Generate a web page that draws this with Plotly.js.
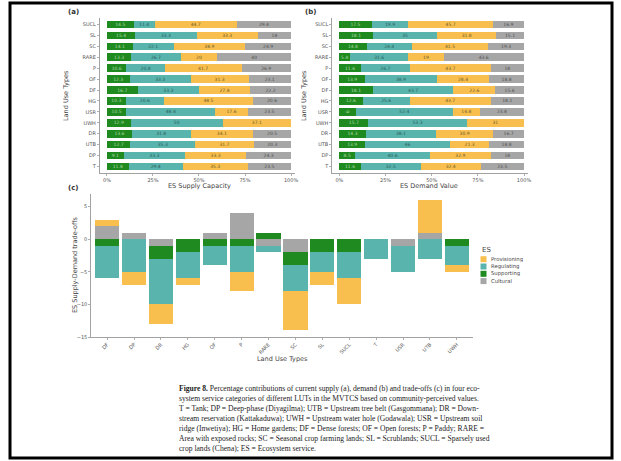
<!DOCTYPE html>
<html>
<head>
<meta charset="utf-8">
<script src="https://cdn.plot.ly/plotly-3.0.1.min.js"></script>
<style>html,body{margin:0;padding:0;background:#fff;}#chart{width:621px;height:461px;}</style>
</head>
<body>
<div id="chart"></div>
<script>
// ---- Data ----
// Panels (a) and (b): land use types listed bottom to top
const landTypesAB = ['T','DP','UTB','DR','UWH','USR','HG','DF','OF','P','RARE','SC','SL','SUCL'];
const supplySupporting   = [11.8, 9.1, 12.7, 13.6, 12.9, 10.5, 10.3, 16.7, 12.3, 10.6, 13.3, 14.1, 15.4, 14.5];
const supplyRegulating   = [29.4, 33.3, 35.3, 31.8, 50.0, 48.4, 20.6, 33.3, 33.3, 20.8, 26.7, 22.1, 33.3, 11.4];
const supplyProvisioning = [35.3, 33.3, 31.7, 34.1, 37.1, 17.6, 48.5, 27.8, 31.3, 41.7, 20.0, 38.9, 33.3, 44.7];
const supplyCultural     = [23.5, 24.3, 20.3, 20.5, 0, 23.5, 20.6, 22.2, 23.1, 26.9, 40.0, 24.9, 18.0, 29.4];

const demandSupporting   = [11.6, 8.5, 13.9, 14.3, 15.7, 9.0, 12.6, 18.1, 13.9, 11.6, 5.8, 14.8, 18.1, 17.5];
const demandRegulating   = [32.5, 40.6, 46.0, 38.1, 53.3, 52.4, 25.6, 43.7, 38.9, 26.7, 31.6, 24.4, 35.0, 19.9];
const demandProvisioning = [32.4, 32.9, 21.3, 30.9, 31.0, 14.8, 43.7, 22.6, 28.4, 43.7, 19.0, 41.5, 31.8, 45.7];
const demandCultural     = [23.5, 18.0, 18.8, 16.7, 0, 23.8, 18.1, 15.6, 18.8, 18.0, 43.6, 19.3, 15.1, 16.9];

// Panel (c): trade-offs
const landTypesC = ['DF','DP','DR','HG','OF','P','RARE','SC','SL','SUCL','T','USR','UTB','UWH'];
const tradeProvisioning = [1, -2, -3, -1, 0, -3, 0, -6, -2, -4, 0, 0, 5, -1];
const tradeRegulating   = [-5, -5, -7, -4, -3, -4, -1, -4, -3, -4, -3, -4, -3, -3];
const tradeSupporting   = [-1, 0, -2, -2, -1, -1, 1, -2, -2, -2, 0, 0, 0, -1];
const tradeCultural     = [2, 1, -1, 0, 1, 4, -1, -2, 0, 0, 0, -1, 1, 0];

const esNames = ['Provisioning','Regulating','Supporting','Cultural'];
const percentTicks = [0, 25, 50, 75, 100];
const percentTickText = ['0%','25%','50%','75%','100%'];
const tradeTicks = [-15, -10, -5, 0, 5];

const captionLines = [
  '<b>Figure 8.</b> Percentage contributions of current supply (a), demand (b) and trade-offs (c) in four eco-',
  'system service categories of different LUTs in the MVTCS based on community-perceived values.',
  'T = Tank; DP = Deep-phase (Diyagilma); UTB = Upstream tree belt (Gasgommana); DR = Down-',
  'stream reservation (Kattakaduwa); UWH = Upstream water hole (Godawala); USR = Upstream soil',
  'ridge (Inwetiya); HG = Home gardens; DF = Dense forests; OF = Open forests; P = Paddy; RARE =',
  'Area with exposed rocks; SC = Seasonal crop farming lands; SL = Scrublands; SUCL = Sparsely used',
  'crop lands (Chena); ES = Ecosystem service.'
];

// ---- Styles ----
const COLORS = {Provisioning:'#F9BF4E', Regulating:'#58B4AD', Supporting:'#1F8A1F', Cultural:'#A6A6A6'};
const TEXTCOL = {Provisioning:'#6b5a2a', Regulating:'#2c5c58', Supporting:'#a8d8a8', Cultural:'#505050'};
const W = 621, H = 461;
const px = x => x / W;
const py = y => 1 - y / H;

function pctTrace(name, vals, xa, ya) {
  return {
    type: 'bar', orientation: 'h', name: name,
    x: vals, y: landTypesAB, xaxis: xa, yaxis: ya,
    width: 0.7,
    marker: {color: COLORS[name], line: {width: 0}},
    text: vals.map(v => v > 0 ? String(v) : ''),
    textposition: 'inside', insidetextanchor: 'middle', constraintext: 'none',
    textfont: {size: 4.5, color: TEXTCOL[name], family: 'DejaVu Sans'},
    showlegend: false, hoverinfo: 'skip'
  };
}
function tradeTrace(name, vals) {
  return {
    type: 'bar', name: name, x: landTypesC, y: vals,
    xaxis: 'x3', yaxis: 'y3', width: 0.9,
    marker: {color: COLORS[name], line: {width: 0}},
    showlegend: false, hoverinfo: 'skip'
  };
}

const data = [
  pctTrace('Supporting', supplySupporting, 'x', 'y'),
  pctTrace('Regulating', supplyRegulating, 'x', 'y'),
  pctTrace('Provisioning', supplyProvisioning, 'x', 'y'),
  pctTrace('Cultural', supplyCultural, 'x', 'y'),
  pctTrace('Supporting', demandSupporting, 'x2', 'y2'),
  pctTrace('Regulating', demandRegulating, 'x2', 'y2'),
  pctTrace('Provisioning', demandProvisioning, 'x2', 'y2'),
  pctTrace('Cultural', demandCultural, 'x2', 'y2'),
  tradeTrace('Cultural', tradeCultural),
  tradeTrace('Supporting', tradeSupporting),
  tradeTrace('Regulating', tradeRegulating),
  tradeTrace('Provisioning', tradeProvisioning)
];

const axisCommon = {
  showline: true, linecolor: '#7a7a7a', linewidth: 0.7,
  ticks: 'outside', ticklen: 2, tickcolor: '#7a7a7a', tickwidth: 0.6,
  showgrid: false, zeroline: false, fixedrange: true,
  tickfont: {size: 5, color: '#555', family: 'DejaVu Sans'}
};
const abY = [py(173), py(18)];

const annotations = [];
function addText(text, x, y, opts) {
  annotations.push(Object.assign({
    text: text, x: px(x), y: py(y), xref: 'paper', yref: 'paper',
    showarrow: false, xanchor: 'center', yanchor: 'middle',
    font: {size: 6.5, color: '#444', family: 'DejaVu Sans'}
  }, opts || {}));
}
addText('<b>(a)</b>', 66, 12, {xanchor: 'left', font: {size: 7, color: '#333', family: 'DejaVu Sans'}});
addText('<b>(b)</b>', 303, 12, {xanchor: 'left', font: {size: 7, color: '#333', family: 'DejaVu Sans'}});
addText('<b>(c)</b>', 66, 188, {xanchor: 'left', font: {size: 7, color: '#333', family: 'DejaVu Sans'}});
addText('Land Use Types', 66, 96, {textangle: -90});
addText('Land Use Types', 304, 96, {textangle: -90});
addText('ES Supply Capacity', 199, 186);
addText('ES Demand Value', 429, 186);
addText('ES Supply-Demand trade-offs', 75, 265, {textangle: -90});
addText('Land Use Types', 282, 359);
// legend for panel (c)
addText('ES', 480, 250, {xanchor: 'left', font: {size: 7, color: '#444', family: 'DejaVu Sans'}});
const shapes = [];
esNames.forEach((nm, i) => {
  const yc = 259.2 + i * 7.3;
  shapes.push({type: 'rect', xref: 'paper', yref: 'paper',
    x0: px(480.5), x1: px(486.5), y0: py(yc + 3), y1: py(yc - 3),
    fillcolor: COLORS[nm], line: {width: 0}});
  addText(nm, 489.5, yc, {xanchor: 'left', font: {size: 5.3, color: '#444', family: 'DejaVu Sans'}});
});
// caption
captionLines.forEach((ln, i) => {
  addText(ln, 177, 388 + i * 10, {xanchor: 'left', align: 'left',
    font: {size: 7.6, color: '#222', family: 'Liberation Serif'}});
});
// frame
shapes.push({type: 'rect', xref: 'paper', yref: 'paper',
  x0: px(10), x1: px(612), y0: py(458), y1: py(3),
  line: {color: '#000', width: 3}, fillcolor: 'rgba(0,0,0,0)'});

const layout = {
  width: W, height: H,
  margin: {l: 0, r: 0, t: 0, b: 0, pad: 0},
  paper_bgcolor: '#fff', plot_bgcolor: '#fff',
  barmode: 'relative', bargap: 0,
  showlegend: false,
  font: {family: 'DejaVu Sans', color: '#444'},
  xaxis: Object.assign({}, axisCommon, {domain: [px(99.6), px(294.7)], range: [-4, 102], tickvals: percentTicks, ticktext: percentTickText, anchor: 'y'}),
  yaxis: Object.assign({}, axisCommon, {domain: abY, type: 'category', categoryorder: 'array', categoryarray: landTypesAB, range: [-0.6, 13.6], anchor: 'x'}),
  xaxis2: Object.assign({}, axisCommon, {domain: [px(332), px(527.7)], range: [-4, 102], tickvals: percentTicks, ticktext: percentTickText, anchor: 'y2'}),
  yaxis2: Object.assign({}, axisCommon, {domain: abY, type: 'category', categoryorder: 'array', categoryarray: landTypesAB, range: [-0.6, 13.6], anchor: 'x2'}),
  xaxis3: Object.assign({}, axisCommon, {domain: [px(91), px(473)], type: 'category', categoryorder: 'array', categoryarray: landTypesC, range: [-0.6, 13.6], tickangle: -45, anchor: 'y3'}),
  yaxis3: Object.assign({}, axisCommon, {domain: [py(337), py(193.5)], range: [-15, 7], tickvals: tradeTicks, anchor: 'x3'}),
  annotations: annotations,
  shapes: shapes
};

Plotly.newPlot('chart', data, layout, {staticPlot: true, displayModeBar: false});
</script>
</body>
</html>
